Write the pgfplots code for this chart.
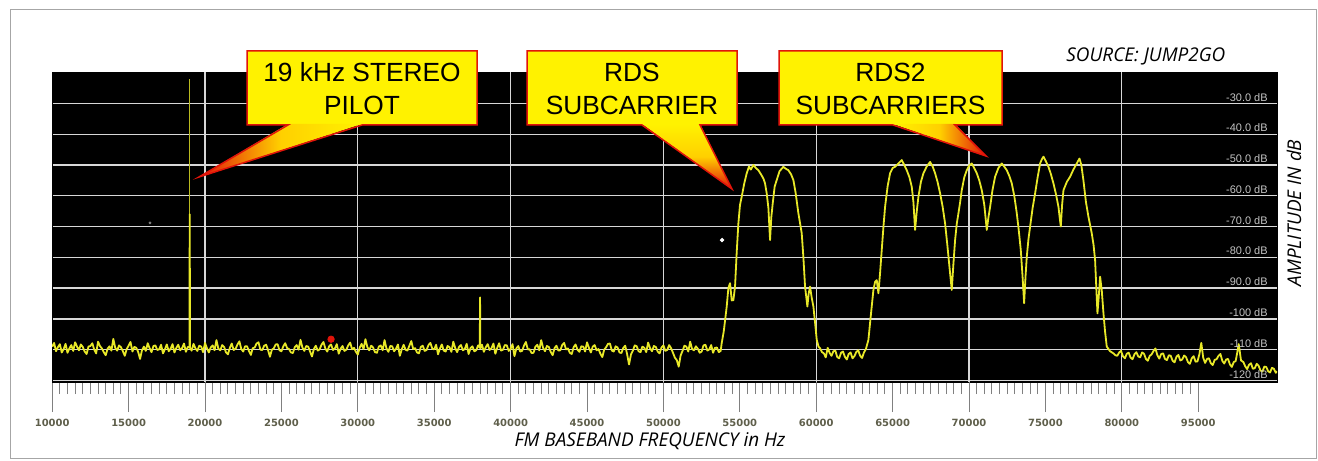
\documentclass[border=0pt]{standalone}
\usepackage{fontspec}
\setmainfont{Liberation Sans}
\newfontfamily\osans{Open Sans}
\newfontfamily\dvs{DejaVu Sans}
\usepackage{pgfplots}
\pgfplotsset{compat=1.18}
\definecolor{trace}{RGB}{232,232,40}
\definecolor{gridc}{RGB}{215,215,215}
\definecolor{tickc}{RGB}{95,95,75}
\definecolor{dbc}{RGB}{195,195,195}
\definecolor{callout}{RGB}{255,242,0}
\definecolor{cred}{RGB}{225,20,10}
\begin{document}
\begin{tikzpicture}
\begin{scope}[x=0.5bp,y=-0.5bp]
\fill[white] (0,0) rectangle (1318,461);
\draw[gray!70, line width=0.5bp] (10,10) rectangle (1316,459);
\end{scope}
\begin{axis}[
  at={(26.1bp,-191bp)}, anchor=south west,
  scale only axis, width=612.4bp, height=155bp,
  xmin=10000, xmax=90157, ymin=-120.5, ymax=-19.8,
  axis background/.style={fill=black},
  axis line style={draw=black},
  clip=true,
  xtick={10000,15000,...,85000},
  xticklabels={10000,15000,20000,25000,30000,35000,40000,45000,50000,55000,60000,65000,70000,75000,80000,95000},
  minor x tick num=9,
  tick align=outside,
  xtick pos=left,
  major tick length=15bp, minor tick length=6bp,
  xtick style={color=gray, line width=0.5bp},
  xticklabel style={font=\dvs\bfseries\fontsize{5}{6}\selectfont, text=tickc},
  scaled x ticks=false,
  ytick={-120,-110,...,-30},
  yticklabels={},
  ytick style={draw=none},
  ymajorgrids=true,
  extra x ticks={20000,30000,...,80000},
  extra x tick labels={},
  extra x tick style={grid=major},
  major grid style={draw=gridc, line width=0.65bp},
]
% thin max-hold line of the pilot
\addplot[trace!80!black, line width=0.4bp, mark=none] coordinates {(19000,-108) (19000,-22)};
% main trace
\addplot[trace, line width=0.9bp, mark=none, line join=round] coordinates {
(10000,-109.0) (10125,-107.8) (10250,-110.5) (10375,-109.2) (10500,-108.2) (10625,-110.9) (10750,-109.8) (10875,-108.1)
(11000,-111.0) (11125,-109.6) (11250,-108.5) (11375,-110.4) (11500,-107.6) (11625,-109.0) (11750,-110.2) (11875,-108.3)
(12000,-109.1) (12125,-110.6) (12250,-111.4) (12375,-109.0) (12500,-108.8) (12625,-107.9) (12750,-110.0) (12875,-111.2)
(13000,-107.4) (13125,-108.8) (13250,-109.6) (13375,-110.8) (13500,-111.8) (13625,-109.7) (13750,-108.9) (13875,-110.3)
(14000,-106.5) (14125,-109.4) (14250,-110.3) (14375,-108.6) (14500,-109.2) (14625,-110.5) (14750,-112.0) (14875,-109.8)
(15000,-108.7) (15125,-107.5) (15250,-110.6) (15375,-109.1) (15500,-109.4) (15625,-110.7) (15750,-113.0) (15875,-110.2)
(16000,-109.0) (16125,-110.4) (16250,-107.9) (16375,-109.5) (16500,-110.8) (16625,-108.8) (16750,-108.6) (16875,-110.1)
(17000,-109.9) (17125,-108.4) (17250,-111.2) (17375,-109.9) (17500,-108.3) (17625,-110.5) (17750,-109.7) (17875,-108.2)
(18000,-110.9) (18125,-109.4) (18250,-108.4) (18375,-110.2) (18500,-109.5) (18625,-108.0) (18750,-110.7) (18875,-109.1)
(18980,-109.2) (19000,-66) (19020,-109.4)
(19125,-110.3) (19250,-108.1) (19375,-109.6) (19500,-110.4) (19625,-108.7) (19750,-109.0) (19875,-110.8) (20000,-107.8)
(20125,-109.5) (20250,-110.9) (20375,-109.3) (20500,-108.6) (20625,-110.2) (20750,-106.9) (20875,-109.7) (21000,-110.2)
(21125,-108.5) (21250,-109.1) (21375,-110.9) (21500,-111.5) (21625,-109.4) (21750,-108.0) (21875,-110.1) (22000,-109.7)
(22125,-108.3) (22250,-107.3) (22375,-109.8) (22500,-110.6) (22625,-108.9) (22750,-108.9) (22875,-110.4) (23000,-111.7)
(23125,-109.5) (23250,-109.3) (23375,-108.0) (23500,-107.6) (23625,-110.0) (23750,-110.1) (23875,-108.7) (24000,-108.4)
(24125,-110.1) (24250,-112.3) (24375,-110.0) (24500,-109.6) (24625,-108.3) (24750,-108.2) (24875,-110.2) (25000,-110.5)
(25125,-108.9) (25250,-107.9) (25375,-109.5) (25500,-109.8) (25625,-110.9) (25750,-111.1) (25875,-109.2) (26000,-108.5)
(26125,-110.0) (26250,-106.8) (26375,-109.3) (26500,-110.4) (26625,-108.8) (26750,-109.0) (26875,-110.6) (27000,-112.2)
(27125,-109.8) (27250,-108.7) (27375,-110.3) (27500,-109.9) (27625,-108.4) (27750,-107.5) (27875,-109.6) (28000,-110.6)
(28125,-108.9) (28250,-108.3) (28375,-110.1) (28500,-109.6) (28625,-108.2) (28750,-111.3) (28875,-109.7) (29000,-108.8)
(29125,-110.4) (29250,-110.0) (29375,-108.6) (29500,-107.7) (29625,-109.9) (29750,-109.4) (29875,-110.7) (30000,-111.6)
(30125,-109.3) (30250,-108.1) (30375,-109.8) (30500,-106.6) (30625,-109.2) (30750,-110.2) (30875,-108.7) (31000,-109.3)
(31125,-110.8) (31250,-111.0) (31375,-109.0) (31500,-108.6) (31625,-110.2) (31750,-106.9) (31875,-109.6) (32000,-110.7)
(32125,-108.8) (32250,-108.9) (32375,-110.5) (32500,-109.7) (32625,-108.3) (32750,-112.0) (32875,-109.9) (33000,-108.4)
(33125,-110.0) (33250,-110.3) (33375,-108.7) (33500,-107.2) (33625,-109.8) (33750,-109.5) (33875,-110.9) (34000,-111.2)
(34125,-109.1) (34250,-108.7) (34375,-110.4) (34500,-110.1) (34625,-108.5) (34750,-107.8) (34875,-109.7) (35000,-109.9)
(35125,-108.4) (35250,-111.5) (35375,-109.6) (35500,-108.3) (35625,-110.3) (35750,-110.6) (35875,-108.8) (36000,-109.2)
(36125,-110.7) (36250,-107.4) (36375,-109.5) (36500,-110.8) (36625,-109.1) (36750,-108.5) (36875,-110.2) (37000,-109.8)
(37125,-108.1) (37250,-111.4) (37375,-109.5) (37500,-108.9) (37625,-110.5) (37750,-110.2) (37875,-108.6)
(37980,-109.3) (38000,-93) (38020,-109.6)
(38125,-108.4) (38250,-110.7) (38375,-109.2) (38500,-108.2) (38625,-110.1) (38750,-109.5) (38875,-108.0) (39000,-111.3)
(39125,-109.4) (39250,-107.9) (39375,-110.3) (39500,-110.0) (39625,-108.5) (39750,-108.6) (39875,-110.4) (40000,-109.7)
(40125,-108.2) (40250,-112.1) (40375,-109.6) (40500,-108.8) (40625,-110.6) (40750,-110.4) (40875,-108.7) (41000,-107.5)
(41125,-109.9) (41250,-109.9) (41375,-111.1) (41500,-111.0) (41625,-109.0) (41750,-108.4) (41875,-110.2) (42000,-106.9)
(42125,-109.4) (42250,-110.5) (42375,-108.8) (42500,-109.1) (42625,-110.7) (42750,-111.8) (42875,-109.5) (43000,-108.7)
(43125,-110.3) (43250,-110.2) (43375,-108.5) (43500,-107.8) (43625,-109.9) (43750,-109.6) (43875,-111.0) (44000,-111.4)
(44125,-109.2) (44250,-108.3) (44375,-110.0) (44500,-110.7) (44625,-108.9) (44750,-109.0) (44875,-110.6) (45000,-107.6)
(45125,-109.4) (45250,-110.9) (45375,-109.0) (45500,-108.5) (45625,-110.2) (45750,-109.8) (45875,-111.3) (46000,-112.4)
(46125,-110.0) (46250,-109.2) (46375,-108.1) (46500,-108.0) (46625,-110.3) (46750,-110.6) (46875,-108.9) (47000,-109.3)
(47125,-110.9) (47250,-111.1) (47375,-109.4) (47500,-108.7) (47625,-111.5) (47750,-114.8) (47875,-111.6) (48000,-110.3)
(48125,-108.6) (48250,-108.9) (48375,-110.5) (48500,-110.8) (48625,-109.0) (48750,-109.4) (48875,-110.8) (49000,-107.7)
(49125,-109.5) (49250,-110.5) (49375,-108.8) (49500,-109.1) (49625,-110.6) (49750,-111.2) (49875,-109.3) (50000,-108.6)
(50125,-110.4) (50250,-110.1) (50375,-108.5) (50500,-109.5) (50625,-111.0) (50750,-112.6) (50875,-113.4) (51000,-115.5)
(51125,-111.9) (51250,-110.4) (51375,-108.7) (51500,-109.0) (51625,-110.6) (51750,-107.4) (51875,-109.8) (52000,-110.2)
(52125,-108.9) (52250,-109.7) (52375,-111.0) (52500,-110.6) (52625,-108.6) (52750,-108.4) (52875,-110.3) (53000,-109.9)
(53125,-108.5) (53250,-111.0) (53375,-109.4) (53500,-109.3) (53625,-110.8) (53750,-110.4)
(53810,-108) (53950,-104) (54142,-96) (54250,-90) (54360,-88.4) (54470,-94) (54578,-93.9) (54687,-89.5)
(54800,-78) (54905,-69) (55010,-63) (55124,-60.3) (55290,-56) (55451,-52.7) (55600,-50.5) (55720,-51.5)
(55887,-50) (56050,-51) (56214,-51.7) (56380,-53) (56542,-54.4) (56650,-56) (56760,-59.2) (56870,-64)
(56978,-74.4) (57060,-67) (57153,-62.5) (57280,-57) (57415,-54.9) (57600,-52) (57851,-50.6) (58000,-51.2)
(58178,-51.7) (58350,-53) (58505,-54.9) (58650,-59) (58833,-65.7) (59051,-72.2) (59160,-80) (59269,-89.5)
(59422,-96) (59500,-92) (59596,-89.5) (59700,-93) (59815,-96) (59920,-101) (60033,-106.8) (60150,-109) (60251,-109.5)
(60375,-110.8) (60500,-111.2) (60625,-112.5) (60750,-109.4) (60875,-111.0) (61000,-112.0) (61125,-110.5) (61250,-110.3)
(61375,-112.4) (61500,-112.8) (61625,-111.0) (61750,-110.6) (61875,-112.3) (62000,-113.2) (62125,-111.4) (62250,-110.9)
(62375,-112.8) (62500,-112.1) (62625,-110.7) (62750,-110.2) (62875,-112.0) (63000,-112.7) (63125,-110.9) (63250,-109.8)
(63415,-106.8) (63550,-100) (63742,-90.6) (63850,-88) (63961,-87.4) (64070,-91.7) (64180,-85) (64288,-77.6)
(64400,-70) (64506,-63.6) (64670,-57) (64833,-52.7) (65000,-51) (65161,-50.6) (65380,-49.5) (65597,-48.4)
(65760,-50) (65924,-51.7) (66100,-54) (66252,-57.1) (66360,-62) (66470,-71.1) (66580,-65) (66688,-60.3)
(66850,-55.5) (67015,-52.7) (67230,-50.5) (67452,-49) (67620,-50.5) (67779,-52.7) (67940,-55.5) (68106,-59.2)
(68270,-63.5) (68434,-69) (68580,-76) (68717,-83) (68870,-90.6) (68980,-82) (69088,-74.4) (69200,-69)
(69306,-65.7) (69420,-62) (69524,-58.2) (69690,-54) (69852,-51.7) (70010,-50.2) (70179,-49.5) (70340,-51)
(70507,-52.7) (70670,-55) (70834,-58.2) (71000,-63) (71161,-71.1) (71270,-67) (71380,-63.6) (71540,-58)
(71707,-53.8) (71920,-51) (72143,-49.5) (72300,-50.5) (72470,-51.7) (72630,-53.5) (72798,-56) (72960,-60)
(73125,-65.7) (73250,-71) (73387,-77.6) (73500,-86) (73605,-94.9) (73700,-86) (73780,-79.8) (73890,-74)
(73998,-70) (74160,-64) (74325,-59.2) (74490,-54) (74653,-49.5) (74760,-48.2) (74871,-47.3) (75030,-48.8)
(75198,-50.6) (75360,-53) (75525,-56) (75690,-59.5) (75853,-63.6) (75930,-67) (76005,-70) (76090,-63)
(76180,-58.2) (76400,-55.5) (76616,-53.8) (76830,-51.5) (77052,-49.5) (77226,-47.9) (77350,-50) (77486,-55)
(77650,-62) (77813,-66.8) (78032,-72.2) (78150,-76) (78250,-80.9) (78330,-90) (78405,-98.2) (78500,-92)
(78580,-86.3) (78690,-91) (78798,-98.2) (78900,-104) (79014,-109) (79230,-110.5) (79450,-111.2)
(79575,-111.8) (79700,-112.0) (79825,-110.9) (79950,-110.4) (80075,-112.2) (80200,-112.8) (80325,-111.3) (80450,-111.0)
(80575,-112.6) (80700,-113.1) (80825,-111.5) (80950,-110.8) (81075,-112.2) (81200,-112.5) (81325,-110.9) (81450,-111.3)
(81575,-113.0) (81700,-113.6) (81825,-112.0) (81950,-111.5) (82075,-110.4) (82200,-109.6) (82325,-111.8) (82450,-112.9)
(82575,-111.4) (82700,-111.2) (82825,-113.0) (82950,-113.4) (83075,-111.8) (83200,-112.0) (83325,-113.6) (83450,-114.1)
(83575,-112.3) (83700,-111.7) (83825,-113.5) (83950,-113.2) (84075,-111.9) (84200,-112.4) (84325,-114.0) (84450,-114.6)
(84575,-112.8) (84700,-112.1) (84825,-113.9) (84950,-113.8) (85075,-111.5) (85200,-107.8) (85325,-112.6) (85450,-114.3)
(85575,-113.0) (85700,-112.8) (85825,-114.4) (85950,-115.0) (86075,-113.3) (86200,-113.1) (86325,-112.0) (86450,-111.4)
(86575,-113.6) (86700,-114.5) (86825,-113.2) (86950,-113.0) (87075,-114.8) (87200,-115.6) (87325,-114.0) (87450,-113.7)
(87550,-111.0) (87650,-108.2) (87800,-113.5) (87950,-114.0) (88075,-115.4) (88200,-116.3) (88325,-114.9) (88450,-114.4)
(88575,-116.2) (88700,-116.0) (88825,-114.6) (88950,-115.2) (89075,-116.8) (89200,-117.1) (89325,-115.5) (89450,-115.6)
(89575,-117.0) (89700,-117.4) (89825,-115.9) (89950,-116.2) (90075,-117.5) (90157,-117.0)
};
% marker and stray dots
\addplot[only marks, mark=*, mark size=1.6bp, color=cred] coordinates {(28250,-106.6)};
\addplot[only marks, mark=*, mark size=0.9bp, color=white] coordinates {(53835,-74.4)};
\addplot[only marks, mark=*, mark size=0.5bp, color=gray] coordinates {(16400,-68.8)};
% amplitude labels inside the plot
\foreach \v/\t in {-30/-30.0 dB,-40/-40.0 dB,-50/-50.0 dB,-60/-60.0 dB,-70/-70.0 dB,-80/-80.0 dB,-90/-90.0 dB,-100/-100 dB,-110/-110 dB,-120/-120 dB}{
  \edef\tmp{\noexpand\node[anchor=base east, inner sep=0pt, text=dbc, font=\noexpand\fontsize{5.5}{6}\noexpand\selectfont, xshift=-4.5bp, yshift=1.2bp] at (axis cs:90157,\v) {\t};}
  \tmp
}
\end{axis}
\begin{scope}[x=0.5bp,y=-0.5bp]
% callout 1
\fill[callout] (247,51) rectangle (477,125);
\shade[left color=cred, right color=callout, middle color=callout!70!orange] (288,124) -- (199,177) -- (362,124) -- cycle;
\draw[cred, line width=0.75bp, line join=miter] (288,125) -- (247,125) -- (247,51) -- (477,51) -- (477,125) -- (362,125) -- (199,177) -- cycle;
\node[anchor=base, inner sep=0pt, font=\fontsize{13.2}{16}\selectfont] at (362,82) {19 kHz STEREO};
\node[anchor=base, inner sep=0pt, font=\fontsize{13.2}{16}\selectfont] at (362,115) {PILOT};
% callout 2
\fill[callout] (527,51) rectangle (737,125);
\shade[top color=callout, bottom color=cred, middle color=callout!70!orange] (642,124) -- (732,189) -- (700,124) -- cycle;
\draw[cred, line width=0.75bp, line join=miter] (642,125) -- (527,125) -- (527,51) -- (737,51) -- (737,125) -- (700,125) -- (732,189) -- cycle;
\node[anchor=base, inner sep=0pt, font=\fontsize{13.2}{16}\selectfont] at (632,82) {RDS};
\node[anchor=base, inner sep=0pt, font=\fontsize{13.2}{16}\selectfont] at (632,115) {SUBCARRIER};
% callout 3
\fill[callout] (779,51) rectangle (1002,125);
\shade[left color=callout, right color=cred, middle color=callout!70!orange] (893,124) -- (986,156) -- (955,124) -- cycle;
\draw[cred, line width=0.75bp, line join=miter] (893,125) -- (779,125) -- (779,51) -- (1002,51) -- (1002,125) -- (955,125) -- (986,156) -- cycle;
\node[anchor=base, inner sep=0pt, font=\fontsize{13.2}{16}\selectfont] at (890.5,82) {RDS2};
\node[anchor=base, inner sep=0pt, font=\fontsize{13.2}{16}\selectfont] at (890.5,115) {SUBCARRIERS};
% texts
\node[anchor=base west, inner sep=0pt, font=\osans\itshape\fontsize{9.5}{11}\selectfont] at (1066,62) {SOURCE: JUMP2GO};
\node[anchor=base, inner sep=0pt, font=\osans\itshape\fontsize{9.5}{11}\selectfont] at (650,447) {FM BASEBAND FREQUENCY in Hz};
\node[anchor=base, rotate=90, inner sep=0pt, font=\osans\itshape\fontsize{9.5}{11}\selectfont] at (1301,213) {AMPLITUDE IN dB};
\end{scope}
\end{tikzpicture}
\end{document}
